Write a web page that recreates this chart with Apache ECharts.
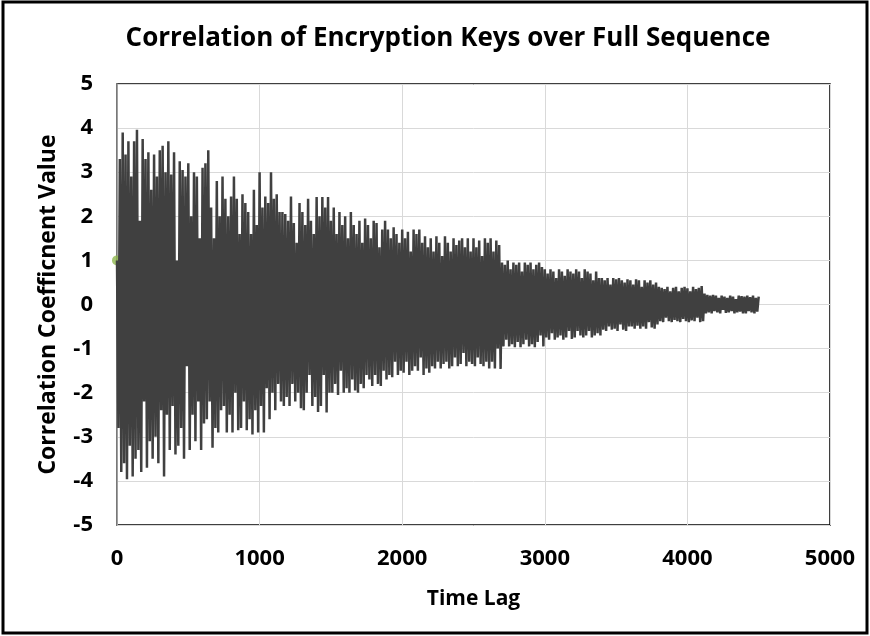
<!DOCTYPE html>
<html>
<head>
<meta charset="utf-8">
<script src="https://cdn.jsdelivr.net/npm/echarts@6/dist/echarts.min.js"></script>
<style>
html,body{margin:0;padding:0;background:#fff;}
#chart{width:870px;height:636px;}
</style>
</head>
<body>
<div id="chart"></div>
<script>
// Chart text
const chartTitle = 'Correlation of Encryption Keys over Full Sequence';
const xAxisName = 'Time Lag';
const yAxisName = 'Correlation Coefficnent Value';

// Axis ticks
const xTicks = [0, 1000, 2000, 3000, 4000, 5000];
const yTicks = [-5, -4, -3, -2, -1, 0, 1, 2, 3, 4, 5];

// Lag step between consecutive correlation samples
const lagStep = 10;

// Correlation coefficient values (lag 0, 10, 20, ...)
const corrValues = [
  1.0, -2.8, 3.3, -3.8, 3.9, -3.6, 3.4, -3.96, 3.7, -3.2,
  2.9, -3.9, 3.7, -3.5, 3.96, -3.3, 1.9, -3.8, 3.75, -2.2,
  3.3, -3.7, 3.45, -3.1, 2.6, -3.5, 3.4, -3.0, 2.9, -3.6,
  3.5, -2.4, 3.6, -3.9, 3.0, -2.5, 3.7, -3.3, 2.95, -2.3,
  3.45, -3.4, 1.0, -3.2, 3.25, -2.8, 3.05, -3.5, 2.9, -1.4,
  3.2, -3.3, 2.0, -2.5, 3.0, -3.1, 2.9, -2.2, 1.5, -3.3,
  3.1, -2.7, 3.2, -2.6, 3.5, -2.2, 2.2, -3.25, 1.5, -2.8,
  2.8, -2.9, 2.0, -2.4, 2.9, -2.3, 2.4, -2.9, 2.0, -2.5,
  2.45, -2.9, 2.9, -2.0, 2.4, -2.85, 1.6, -2.8, 2.5, -2.2,
  2.3, -2.85, 2.1, -2.6, 1.6, -2.95, 2.6, -2.4, 1.8, -2.9,
  3.0, -2.3, 2.2, -2.9, 2.45, -1.9, 2.3, -2.6, 3.0, -2.0,
  2.4, -2.4, 2.5, -1.8, 2.1, -2.2, 2.1, -2.3, 2.05, -2.1,
  1.9, -2.3, 2.45, -1.8, 1.85, -2.2, 1.4, -2.0, 2.3, -2.35,
  2.1, -2.4, 1.8, -2.0, 2.4, -1.6, 1.9, -2.3, 1.6, -2.1,
  2.44, -2.44, 2.0, -2.3, 2.44, -1.6, 2.2, -2.45, 2.44, -2.0,
  1.9, -2.0, 2.2, -1.8, 1.6, -2.05, 2.1, -1.5, 1.8, -2.0,
  2.0, -1.9, 1.5, -2.0, 2.1, -1.7, 1.8, -1.95, 1.6, -2.0,
  1.9, -1.8, 1.4, -1.9, 1.95, -1.6, 1.8, -1.7, 1.5, -1.85,
  1.9, -1.6, 1.85, -1.8, 1.3, -1.85, 1.7, -1.5, 1.9, -1.7,
  1.7, -1.6, 1.5, -1.65, 1.75, -1.3, 1.6, -1.6, 1.4, -1.5,
  1.7, -1.55, 1.5, -1.3, 1.65, -1.6, 1.2, -1.5, 1.7, -1.4,
  1.6, -1.5, 1.7, -1.2, 1.4, -1.6, 1.55, -1.45, 1.3, -1.55,
  1.5, -1.4, 1.2, -1.45, 1.55, -1.3, 1.4, -1.45, 1.1, -1.35,
  1.55, -1.3, 1.4, -1.45, 1.2, -1.4, 1.5, -1.2, 1.35, -1.4,
  1.45, -1.35, 1.5, -1.1, 1.3, -1.4, 1.5, -1.3, 1.2, -1.35,
  1.5, -1.4, 1.3, -1.2, 1.45, -1.35, 1.1, -1.4, 1.5, -1.3,
  1.4, -1.45, 1.5, -1.3, 1.2, -1.45, 1.45, -1.0, 1.35, -1.46,
  0.95, -0.95, 0.9, -0.8, 1.0, -0.95, 0.8, -0.9, 0.95, -0.97,
  0.9, -0.85, 0.95, -0.97, 0.75, -0.9, 0.95, -0.8, 0.9, -0.95,
  0.95, -0.9, 0.8, -0.97, 0.9, -0.85, 0.95, -0.7, 0.85, -0.95,
  0.8, -0.75, 0.7, -0.8, 0.8, -0.65, 0.75, -0.8, 0.6, -0.75,
  0.8, -0.7, 0.75, -0.8, 0.65, -0.75, 0.8, -0.6, 0.75, -0.78,
  0.7, -0.75, 0.8, -0.6, 0.75, -0.7, 0.6, -0.75, 0.8, -0.7,
  0.75, -0.6, 0.7, -0.75, 0.55, -0.7, 0.75, -0.65, 0.6, -0.7,
  0.6, -0.57, 0.55, -0.6, 0.6, -0.5, 0.45, -0.57, 0.6, -0.55,
  0.57, -0.6, 0.6, -0.45, 0.55, -0.57, 0.5, -0.6, 0.57, -0.5,
  0.55, -0.5, 0.45, -0.55, 0.57, -0.48, 0.55, -0.55, 0.4, -0.5,
  0.55, -0.55, 0.5, -0.4, 0.55, -0.52, 0.45, -0.55, 0.5, -0.45,
  0.4, -0.38, 0.38, -0.4, 0.35, -0.3, 0.4, -0.38, 0.3, -0.4,
  0.38, -0.35, 0.4, -0.38, 0.3, -0.4, 0.38, -0.33, 0.4, -0.38,
  0.37, -0.4, 0.3, -0.36, 0.4, -0.38, 0.35, -0.3, 0.38, -0.4,
  0.42, -0.38, 0.25, -0.2, 0.22, -0.18, 0.2, -0.2, 0.22, -0.15,
  0.2, -0.18, 0.15, -0.2, 0.2, -0.12, 0.18, -0.19, 0.15, -0.18,
  0.2, -0.15, 0.18, -0.2, 0.12, -0.18, 0.2, -0.16, 0.19, -0.2,
  0.18, -0.2, 0.2, -0.15, 0.17, -0.18, 0.2, -0.2, 0.15, -0.16,
  0.18
];

// Lag-0 marker point
const lagZeroPoint = [0, 1];

const seriesData = corrValues.map((v, i) => [i * lagStep, v]);

const fontFamily = '"Open Sans", Lato, sans-serif';

const chart = echarts.init(document.getElementById('chart'), null, {renderer: 'canvas'});
chart.setOption({
  animation: false,
  backgroundColor: '#ffffff',
  title: {
    text: chartTitle,
    left: 443,
    top: 21,
    textAlign: 'center',
    textStyle: {fontFamily: fontFamily, fontSize: 26, fontWeight: 'bold', color: '#000'}
  },
  grid: {
    left: 117, right: 40, top: 84, bottom: 111,
    show: true, borderColor: '#000', borderWidth: 1.5, backgroundColor: 'transparent'
  },
  xAxis: {
    type: 'value',
    min: xTicks[0], max: xTicks[xTicks.length - 1], interval: 1000,
    name: xAxisName, nameLocation: 'middle', nameGap: 64,
    nameTextStyle: {fontFamily: fontFamily, fontSize: 21, fontWeight: 'bold', color: '#000'},
    axisLine: {show: false},
    axisTick: {show: false},
    axisLabel: {fontFamily: fontFamily, fontSize: 22, fontWeight: 'bold', color: '#000', margin: 23,
      formatter: v => String(v)},
    splitLine: {show: true, lineStyle: {color: '#d9d9d9', width: 1}}
  },
  yAxis: {
    type: 'value',
    min: yTicks[0], max: yTicks[yTicks.length - 1], interval: 1,
    name: yAxisName, nameLocation: 'middle', nameGap: 57,
    nameTextStyle: {fontFamily: fontFamily, fontSize: 23, fontWeight: 'bold', color: '#000'},
    axisLine: {show: true, onZero: false, lineStyle: {color: '#8c8c8c', width: 1.5}},
    axisTick: {show: false},
    axisLabel: {fontFamily: fontFamily, fontSize: 22, fontWeight: 'bold', color: '#000', margin: 24,
      formatter: v => String(v)},
    splitLine: {show: true, lineStyle: {color: '#d9d9d9', width: 1}}
  },
  graphic: [{
    type: 'rect',
    shape: {x: 3, y: 2, width: 864, height: 631},
    style: {fill: 'none', stroke: '#000', lineWidth: 3},
    silent: true
  }],
  series: [{
    type: 'line',
    data: seriesData,
    showSymbol: false,
    symbol: 'none',
    lineStyle: {color: '#404040', width: 2.5},
    z: 3
  }, {
    type: 'scatter',
    data: [lagZeroPoint],
    symbolSize: 10,
    itemStyle: {color: '#8fb64e'},
    z: 2
  }]
});
</script>
</body>
</html>
